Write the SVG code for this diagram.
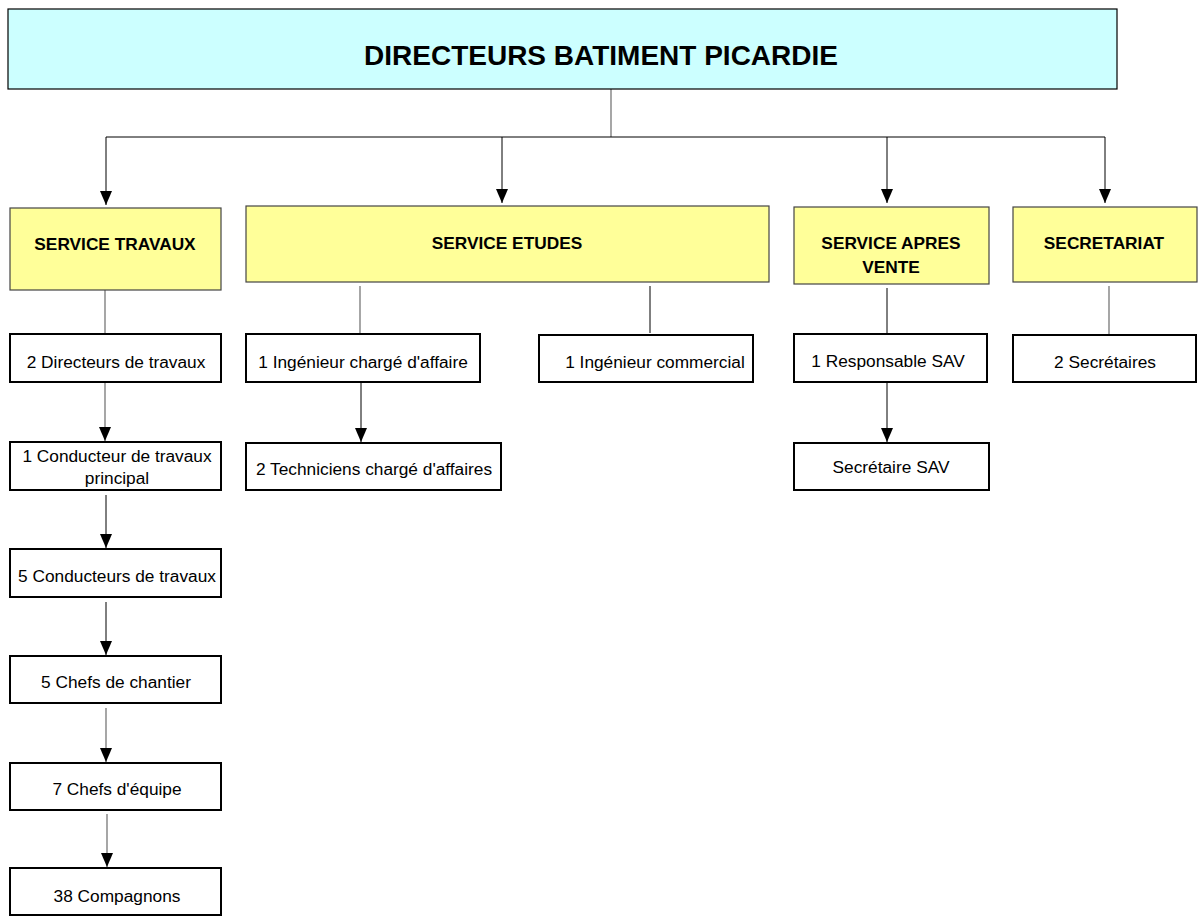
<svg xmlns="http://www.w3.org/2000/svg" width="1201" height="916" viewBox="0 0 1201 916">
<defs>
<marker id="ah" markerUnits="userSpaceOnUse" markerWidth="14" markerHeight="12" refX="14" refY="6" orient="auto" viewBox="0 0 14 12">
<path d="M0,0 L14,6 L0,12 Z" fill="#000"/>
</marker>
<style>
.top{fill:#CCFFFF;stroke:#000;stroke-width:1.2}
.svc{fill:#FFFF99;stroke:#444;stroke-width:1.2}
.box{fill:#fff;stroke:#000;stroke-width:2}
.t{font-family:"Liberation Sans",Arial,sans-serif;font-size:17.3px;fill:#000;text-anchor:middle}
.b{font-weight:bold}
.title{font-family:"Liberation Sans",Arial,sans-serif;font-size:28px;font-weight:bold;text-anchor:middle}
.c{fill:none;stroke:#000;stroke-width:1}
.g{fill:none;stroke:#777;stroke-width:1.3}
</style>
</defs>
<rect width="1201" height="916" fill="#fff"/>
<g id="connectors">
<line class="g" x1="611" y1="89" x2="611" y2="137"/>
<line class="c" x1="106" y1="137" x2="1105" y2="137"/>
<line class="c" x1="106" y1="137" x2="106" y2="205" marker-end="url(#ah)"/>
<line class="c" x1="502" y1="137" x2="502" y2="203" marker-end="url(#ah)"/>
<line class="c" x1="887" y1="137" x2="887" y2="203" marker-end="url(#ah)"/>
<line class="c" x1="1105" y1="137" x2="1105" y2="203" marker-end="url(#ah)"/>
<line class="g" x1="105" y1="290" x2="105" y2="334"/>
<line class="g" x1="105" y1="382" x2="105" y2="441" marker-end="url(#ah)"/>
<line class="c" x1="106" y1="495" x2="106" y2="548" marker-end="url(#ah)"/>
<line class="c" x1="106" y1="602" x2="106" y2="655" marker-end="url(#ah)"/>
<line class="g" x1="106" y1="708" x2="106" y2="762" marker-end="url(#ah)"/>
<line class="g" x1="107" y1="814" x2="107" y2="867" marker-end="url(#ah)"/>
<line class="g" x1="360" y1="286" x2="360" y2="333"/>
<line class="c" x1="361" y1="382" x2="361" y2="442" marker-end="url(#ah)"/>
<line class="c" x1="650" y1="286" x2="650" y2="333"/>
<line class="c" x1="887" y1="288" x2="887" y2="334"/>
<line class="c" x1="887" y1="382" x2="887" y2="442" marker-end="url(#ah)"/>
<line class="g" x1="1109" y1="286" x2="1109" y2="334"/>
</g>
<g id="n-top">
<rect class="top" x="8" y="9" width="1109" height="80"/>
<text class="title" x="601" y="65">DIRECTEURS BATIMENT PICARDIE</text>
</g>
<g id="n-travaux">
<rect class="svc" x="10" y="208" width="211" height="82"/>
<text class="t b" x="115" y="250">SERVICE TRAVAUX</text>
</g>
<g id="n-etudes">
<rect class="svc" x="246" y="206" width="523" height="76"/>
<text class="t b" x="507" y="249">SERVICE ETUDES</text>
</g>
<g id="n-sav">
<rect class="svc" x="794" y="207" width="195" height="77"/>
<text class="t b" x="891" y="249">SERVICE APRES</text>
<text class="t b" x="891" y="273">VENTE</text>
</g>
<g id="n-secretariat">
<rect class="svc" x="1013" y="207" width="184" height="75"/>
<text class="t b" x="1104" y="249">SECRETARIAT</text>
</g>
<g id="n-dir">
<rect class="box" x="10" y="334" width="211" height="48"/>
<text class="t" x="116" y="368">2 Directeurs de travaux</text>
</g>
<g id="n-cond1">
<rect class="box" x="10" y="442" width="211" height="48"/>
<text class="t" x="117" y="462">1 Conducteur de travaux</text>
<text class="t" x="117" y="484">principal</text>
</g>
<g id="n-cond5">
<rect class="box" x="10" y="549" width="211" height="48"/>
<text class="t" x="117" y="582">5 Conducteurs de travaux</text>
</g>
<g id="n-chefs">
<rect class="box" x="10" y="656" width="211" height="47"/>
<text class="t" x="116" y="688">5 Chefs de chantier</text>
</g>
<g id="n-equipe">
<rect class="box" x="10" y="763" width="211" height="47"/>
<text class="t" x="117" y="795">7 Chefs d'équipe</text>
</g>
<g id="n-comp">
<rect class="box" x="10" y="868" width="211" height="47"/>
<text class="t" x="117" y="902">38 Compagnons</text>
</g>
<g id="n-ing">
<rect class="box" x="246" y="334" width="234" height="48"/>
<text class="t" x="363" y="368">1 Ingénieur chargé d'affaire</text>
</g>
<g id="n-tech">
<rect class="box" x="246" y="443" width="255" height="47"/>
<text class="t" x="374" y="475">2 Techniciens chargé d'affaires</text>
</g>
<g id="n-comm">
<rect class="box" x="539" y="335" width="214" height="47"/>
<text class="t" x="655" y="368">1 Ingénieur commercial</text>
</g>
<g id="n-resp">
<rect class="box" x="794" y="334" width="193" height="48"/>
<text class="t" x="888" y="367">1 Responsable SAV</text>
</g>
<g id="n-secsav">
<rect class="box" x="794" y="443" width="195" height="47"/>
<text class="t" x="891" y="473">Secrétaire SAV</text>
</g>
<g id="n-secs">
<rect class="box" x="1013" y="335" width="183" height="47"/>
<text class="t" x="1105" y="368">2 Secrétaires</text>
</g>
</svg>
